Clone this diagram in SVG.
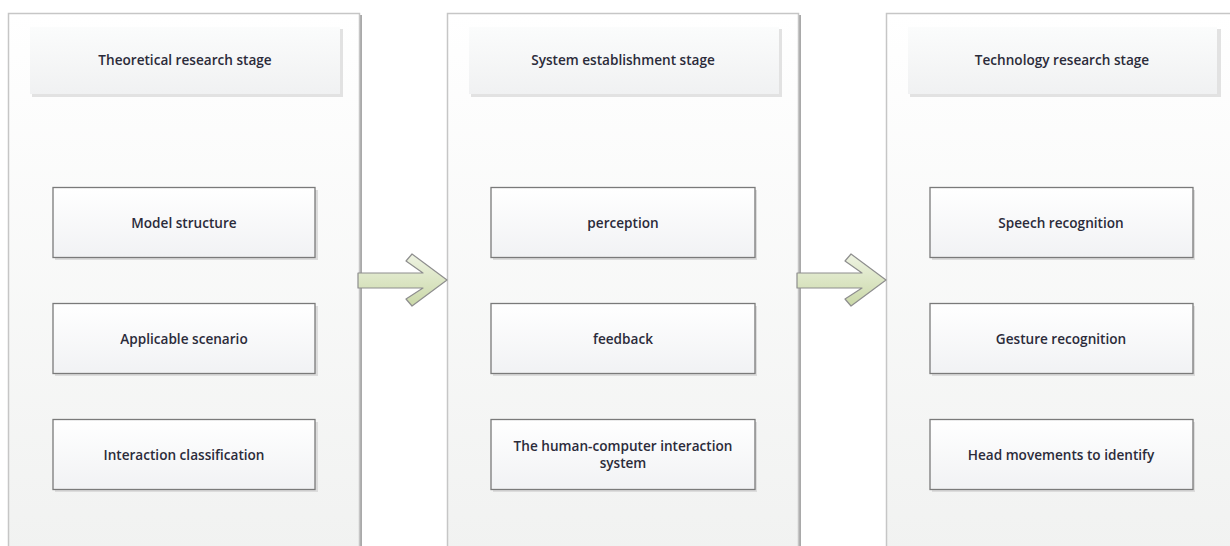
<svg xmlns="http://www.w3.org/2000/svg" width="1230" height="546" viewBox="0 0 1230 546">
<defs>
<linearGradient id="panelG" x1="0" y1="0" x2="0" y2="1">
<stop offset="0" stop-color="#ffffff"/>
<stop offset="1" stop-color="#f1f2f1"/>
</linearGradient>
<linearGradient id="hdrG" x1="0" y1="0" x2="0" y2="1">
<stop offset="0" stop-color="#fbfcfc"/>
<stop offset="1" stop-color="#f0f1f2"/>
</linearGradient>
<linearGradient id="boxG" x1="0" y1="0" x2="0" y2="1">
<stop offset="0" stop-color="#ffffff"/>
<stop offset="1" stop-color="#f1f2f4"/>
</linearGradient>
<linearGradient id="arrG" x1="0" y1="0" x2="0" y2="1">
<stop offset="0" stop-color="#eef3e2"/>
<stop offset="1" stop-color="#cad8a8"/>
</linearGradient>
</defs>
<style>
.panel{fill:url(#panelG);stroke:#c6c6c6;stroke-width:1.5}
.pshadow{fill:none;stroke:#a9a9a9;stroke-width:2}
.hshadow{fill:#e2e2e2}
.hdr{fill:url(#hdrG)}
.bshadow{fill:#dcdcdc}
.box{fill:url(#boxG);stroke:#7a7a7a;stroke-width:1.3}
.lbl{font-family:"Open Sans","Liberation Sans",sans-serif;font-size:13.6px;fill:#2b2b3a;text-anchor:middle;font-weight:600}
.arr{fill:url(#arrG);stroke:#8e8e8e;stroke-width:1.2;stroke-linejoin:round}
</style>
<rect width="1230" height="546" fill="#ffffff"/>

<g id="stage1">
<line class="pshadow" x1="361" y1="15" x2="361" y2="546"/>
<rect class="panel" x="8.5" y="13.5" width="351" height="540"/>
<rect class="hshadow" x="32" y="29" width="311" height="68"/>
<rect class="hdr" x="30" y="27" width="310" height="67"/>
<text class="lbl" x="185" y="65">Theoretical research stage</text>
</g>
<g id="stage2">
<line class="pshadow" x1="800" y1="15" x2="800" y2="546"/>
<rect class="panel" x="447.5" y="13.5" width="351" height="540"/>
<rect class="hshadow" x="471" y="29" width="311" height="68"/>
<rect class="hdr" x="469" y="27" width="310" height="67"/>
<text class="lbl" x="623" y="65">System establishment stage</text>
</g>
<g id="stage3">
<rect class="panel" x="886.5" y="13.5" width="351" height="540"/>
<rect class="hshadow" x="910" y="29" width="311" height="68"/>
<rect class="hdr" x="908" y="27" width="309" height="67"/>
<text class="lbl" x="1062" y="65">Technology research stage</text>
</g>

<g id="n-model">
<rect class="bshadow" x="55" y="190" width="263" height="70"/>
<rect class="box" x="53" y="187.5" width="262" height="70"/>
<text class="lbl" x="184" y="227.5">Model structure</text>
</g>
<g id="n-scenario">
<rect class="bshadow" x="55" y="306" width="263" height="70"/>
<rect class="box" x="53" y="303.5" width="262" height="70"/>
<text class="lbl" x="184" y="343.5">Applicable scenario</text>
</g>
<g id="n-classification">
<rect class="bshadow" x="55" y="422" width="263" height="70"/>
<rect class="box" x="53" y="419.5" width="262" height="70"/>
<text class="lbl" x="184" y="459.5">Interaction classification</text>
</g>

<g id="n-perception">
<rect class="bshadow" x="493" y="190" width="264" height="70"/>
<rect class="box" x="491" y="187.5" width="264" height="70"/>
<text class="lbl" x="623" y="227.5">perception</text>
</g>
<g id="n-feedback">
<rect class="bshadow" x="493" y="306" width="264" height="70"/>
<rect class="box" x="491" y="303.5" width="264" height="70"/>
<text class="lbl" x="623" y="343.5">feedback</text>
</g>
<g id="n-hci">
<rect class="bshadow" x="493" y="422" width="264" height="70"/>
<rect class="box" x="491" y="419.5" width="264" height="70"/>
<text class="lbl" x="623" y="450.5">The human-computer interaction</text>
<text class="lbl" x="623" y="467.5">system</text>
</g>

<g id="n-speech">
<rect class="bshadow" x="932" y="190" width="263" height="70"/>
<rect class="box" x="930" y="187.5" width="263" height="70"/>
<text class="lbl" x="1061" y="227.5">Speech recognition</text>
</g>
<g id="n-gesture">
<rect class="bshadow" x="932" y="306" width="263" height="70"/>
<rect class="box" x="930" y="303.5" width="263" height="70"/>
<text class="lbl" x="1061" y="343.5">Gesture recognition</text>
</g>
<g id="n-head">
<rect class="bshadow" x="932" y="422" width="263" height="70"/>
<rect class="box" x="930" y="419.5" width="263" height="70"/>
<text class="lbl" x="1061" y="459.5">Head movements to identify</text>
</g>

<g id="connectors">
<polygon class="arr" points="358,273 423,273 406,261 412,254 447,280 412,306 406,299 423,288 358,288"/>
<polygon class="arr" points="797,273 862,273 845,261 851,254 886,280 851,306 845,299 862,288 797,288"/>
</g>
</svg>
